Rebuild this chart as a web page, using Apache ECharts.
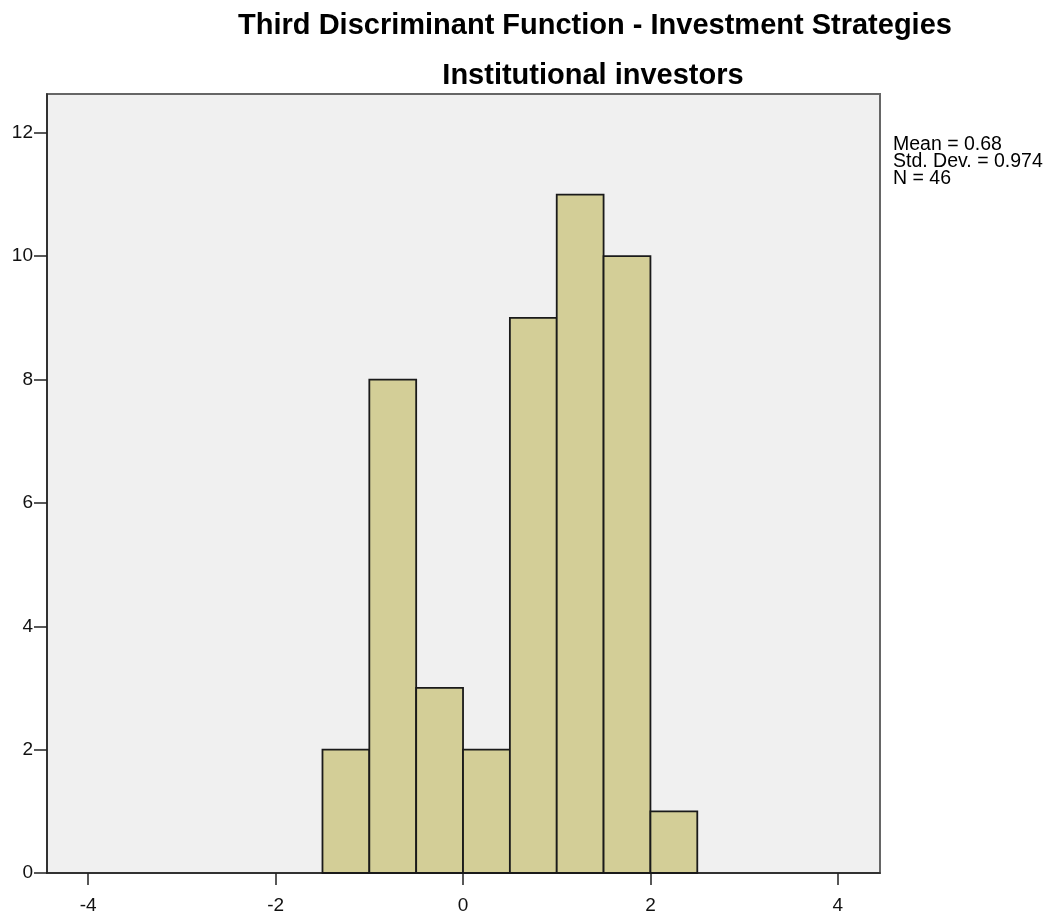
<!DOCTYPE html>
<html>
	<head>
		<meta charset="utf-8">
		<title></title>
		<script src="https://cdn.jsdelivr.net/npm/echarts@6/dist/echarts.min.js"></script>
	</head>
	<body style="margin:0;background:#fff;">
		<div id="main" style="width: 1057px;height:913px;"></div>
		<script>
			// histogram bins (left edge), width 0.5
			var binStarts = [-1.5, -1.0, -0.5, 0.0, 0.5, 1.0, 1.5, 2.0];
			var counts = [2, 8, 3, 2, 9, 11, 10, 1];
			var binWidth = 0.5;
			var xTicks = [-4, -2, 0, 2, 4];
			var statLines = ['Mean = 0.68', 'Std. Dev. = 0.974', 'N = 46'];

			var myChart = echarts.init(document.getElementById('main'));

			var barData = binStarts.map(function(s, i) {
				return [s, s + binWidth, counts[i]];
			});

			var option = {
				backgroundColor: '#ffffff',
				animation: false,
				title: [{
					text: 'Third Discriminant Function - Investment Strategies',
					left: 590,
					top: 6,
					textAlign: 'center',
					textStyle: {
						fontFamily: 'Liberation Sans',
						fontWeight: 'bold',
						fontSize: 29,
						color: '#000'
					}
				}, {
					text: 'Institutional investors',
					left: 588,
					top: 56,
					textAlign: 'center',
					textStyle: {
						fontFamily: 'Liberation Sans',
						fontWeight: 'bold',
						fontSize: 29,
						color: '#000'
					}
				}],
				grid: {
					left: 47,
					right: 177,
					top: 94,
					bottom: 40,
					containLabel: false,
					outerBoundsMode: 'none',
					show: true,
					backgroundColor: '#f0f0f0',
					borderColor: '#666',
					borderWidth: 2
				},
				xAxis: {
					type: 'value',
					min: -4.44,
					max: 4.45,
					splitLine: { show: false },
					axisLine: { onZero: false, lineStyle: { color: '#222', width: 1.5 } },
					axisTick: { customValues: xTicks, length: 12, lineStyle: { color: '#222', width: 1.5 } },
					axisLabel: {
						customValues: xTicks,
						color: '#111',
						fontFamily: 'Liberation Sans',
						fontSize: 19,
						margin: 23
					}
				},
				yAxis: {
					type: 'value',
					min: 0,
					max: 12.63,
					interval: 2,
					splitLine: { show: false },
					axisLine: { show: true, onZero: false, lineStyle: { color: '#222', width: 1.5 } },
					axisTick: { show: true, length: 13, lineStyle: { color: '#222', width: 1.5 } },
					axisLabel: {
						color: '#111',
						fontFamily: 'Liberation Sans',
						fontSize: 19,
						margin: 14,
						padding: [5, 0, 0, 0],
						showMaxLabel: false,
						formatter: function(v) { return v % 2 === 0 ? v : ''; }
					}
				},
				graphic: [{
					type: 'text',
					left: 893,
					top: 135,
					style: {
						text: statLines.join('\n'),
						fontFamily: 'Liberation Sans',
						fontSize: 19.5,
						lineHeight: 17,
						fill: '#000'
					}
				}],
				series: [{
					type: 'custom',
					data: barData,
					encode: { x: [0, 1], y: 2 },
					renderItem: function(params, api) {
						var p0 = api.coord([api.value(0), api.value(2)]);
						var p1 = api.coord([api.value(1), 0]);
						return {
							type: 'rect',
							shape: { x: p0[0], y: p0[1], width: p1[0] - p0[0], height: p1[1] - p0[1] },
							style: { fill: '#d3ce97', stroke: '#1a1a1a', lineWidth: 1.8 }
						};
					}
				}]
			};

			myChart.setOption(option);
		</script>
	</body>
</html>
